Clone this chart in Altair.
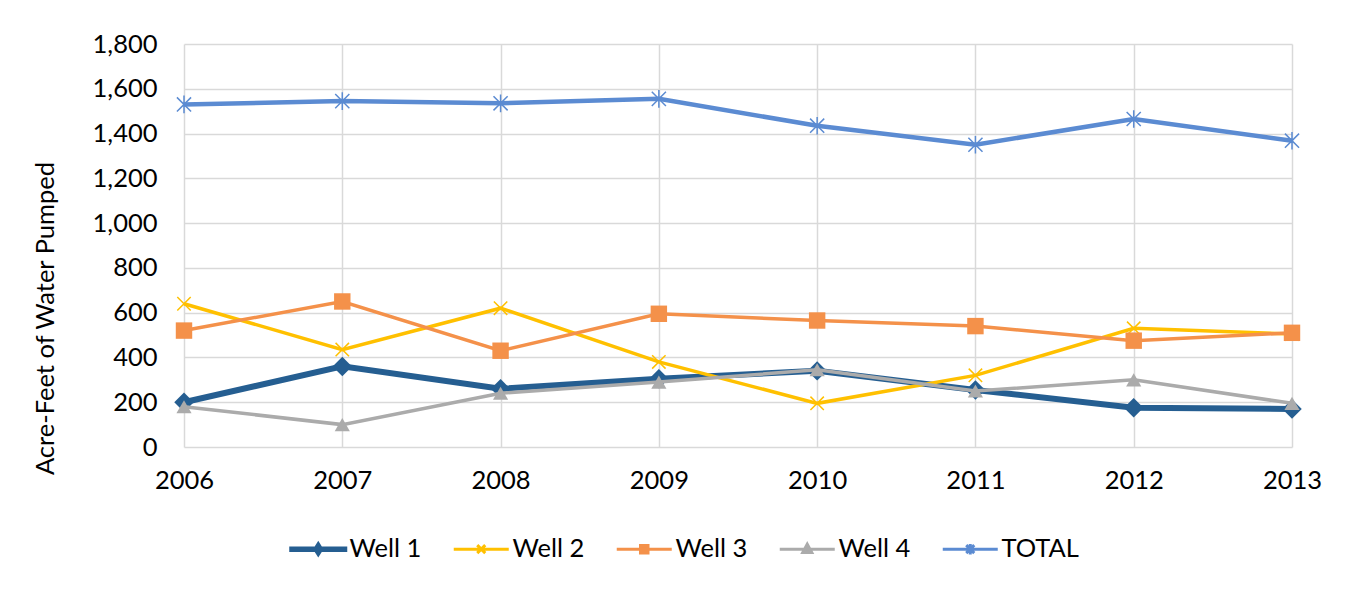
import altair as alt
import pandas as pd

years = ["2006", "2007", "2008", "2009", "2010", "2011", "2012", "2013"]
series_names = ["Well 1", "Well 2", "Well 3", "Well 4", "TOTAL"]
well1 = [200, 360, 260, 305, 340, 255, 175, 170]
well2 = [640, 435, 620, 380, 195, 320, 530, 505]
well3 = [520, 650, 430, 595, 565, 540, 475, 510]
well4 = [180, 100, 240, 290, 345, 250, 300, 195]
total = [1530, 1545, 1535, 1555, 1435, 1350, 1465, 1368]

colors = ["#255E91", "#FFC000", "#F4914A", "#ABABAB", "#5B8BD2"]
line_widths = [6, 3.5, 3.5, 3.5, 4.5]

X_PATH = "M-1,-1L1,1M-1,1L1,-1"
AST_PATH = "M-1,-1L1,1M-1,1L1,-1M0,-1.25L0,1.25"
markers = [
    dict(shape="diamond", filled=True, size=380, strokeWidth=0),
    dict(shape=X_PATH, filled=False, size=180, strokeWidth=1.5),
    dict(shape="square", filled=True, size=270, strokeWidth=0),
    dict(shape="triangle-up", filled=True, size=230, strokeWidth=0),
    dict(shape=AST_PATH, filled=False, size=200, strokeWidth=1.5),
]

legend_paths = [
    "M-1,-0.25L10,-0.25L10,0.25L-1,0.25Z M4.5,-1.1L5.2,0L4.5,1.1L3.8,0Z",
    "M-1,0L10,0 M3.7,-0.8L5.3,0.8 M3.7,0.8L5.3,-0.8",
    "M-1,0L10,0 M3.75,-0.75L5.25,-0.75L5.25,0.75L3.75,0.75Z",
    "M-1,0L10,0 M4.5,-1L5.4,0.65L3.6,0.65Z",
    "M-1,0L10,0 M3.7,-0.8L5.3,0.8 M3.7,0.8L5.3,-0.8 M4.5,-1.05L4.5,1.05",
]

values = [well1, well2, well3, well4, total]
rows = []
for name, vals in zip(series_names, values):
    for yr, v in zip(years, vals):
        rows.append({"year": yr, "series": name, "value": v})
df = pd.DataFrame(rows)

FONT = "Lato"
FS = 25.5
GRID = "#D9D9D9"

x_enc = alt.X(
    "year:O",
    scale=alt.Scale(type="point", padding=0, domain=years),
    axis=alt.Axis(title=None, labelAngle=0, ticks=False, domain=False,
                  grid=True, gridColor=GRID, gridWidth=1.5,
                  labelFontSize=FS, labelFont=FONT, labelColor="#000000",
                  labelPadding=21),
)
y_enc = alt.Y(
    "value:Q",
    scale=alt.Scale(domain=[0, 1800], nice=False),
    axis=alt.Axis(title="Acre-Feet of Water Pumped", values=list(range(0, 1801, 200)),
                  format=",d", ticks=False, domain=False,
                  grid=True, gridColor=GRID, gridWidth=1.5,
                  labelFontSize=FS, labelFont=FONT, labelColor="#000000",
                  labelPadding=27,
                  titleFontSize=FS, titleFont=FONT, titleFontWeight="normal",
                  titleColor="#000000", titleX=-139, titleY=274,
                  titleAlign="center", titleBaseline="middle", titleAngle=-90),
)

base = alt.Chart(df)
layers = []
for i, name in enumerate(series_names):
    sub = base.transform_filter(alt.datum.series == name)
    line = sub.mark_line(color=colors[i], strokeWidth=line_widths[i]).encode(x=x_enc, y=y_enc)
    m = markers[i]
    if m["filled"]:
        pt = sub.mark_point(shape=m["shape"], filled=True, color=colors[i], size=m["size"],
                            opacity=1, strokeWidth=0)
    else:
        pt = sub.mark_point(shape=m["shape"], filled=False, color=colors[i], size=m["size"],
                            opacity=1, strokeWidth=m["strokeWidth"])
    layers.append(line)
    layers.append(pt.encode(x=x_enc, y=y_enc))

legend_layer = base.transform_filter("false").mark_point(
    filled=True, opacity=1, strokeWidth=3
).encode(
    fill=alt.Fill("series:N", scale=alt.Scale(domain=series_names, range=colors),
                  legend=alt.Legend(title=None)),
    stroke=alt.Stroke("series:N", scale=alt.Scale(domain=series_names, range=colors),
                      legend=alt.Legend(title=None)),
    shape=alt.Shape("series:N", scale=alt.Scale(domain=series_names, range=legend_paths),
                    legend=alt.Legend(title=None)),
)

chart = alt.layer(*layers, legend_layer).properties(
    width=1108, height=403,
    autosize=alt.AutoSizeParams(type="none"),
    padding={"left": 176, "top": 36, "right": 50, "bottom": 130},
).configure_view(stroke=None).configure_legend(
    orient="none", legendX=99, legendY=492, direction="horizontal", columns=5,
    symbolSize=100, symbolStrokeWidth=3, labelFont=FONT, labelFontSize=FS,
    labelColor="#000000", labelOffset=41, columnPadding=19, gridAlign="all",
    labelBaseline="middle",
)

chart.save("out.html", embed_options={"renderer": "svg", "actions": False})
